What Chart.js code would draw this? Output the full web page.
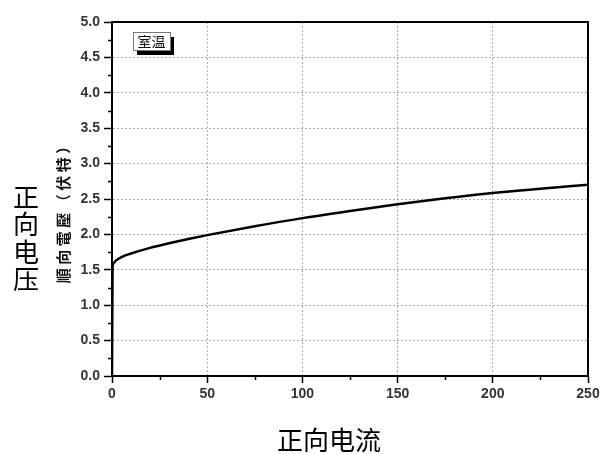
<!DOCTYPE html>
<html>
<head>
<meta charset="utf-8">
<script src="https://cdn.jsdelivr.net/npm/chart.js@4/dist/chart.umd.min.js"></script>
<style>
  html, body { margin: 0; padding: 0; background: #fff; }
  #wrap { width: 610px; height: 454px; }
</style>
</head>
<body>
<div id="wrap"><canvas id="ivChart" width="610" height="454"></canvas></div>
<script>
// forward current (x) and forward voltage (y)
const currentValues = [0, 0.3, 1, 2, 5, 10, 20, 30, 40, 50, 75, 100, 125, 150, 175, 200, 225, 250];
const voltageValues = [0, 1.55, 1.6, 1.63, 1.68, 1.73, 1.81, 1.875, 1.935, 1.99, 2.115, 2.23, 2.33, 2.425, 2.51, 2.585, 2.645, 2.70];

const xTickValues = [0, 50, 100, 150, 200, 250];
const yTickValues = [0, 0.5, 1, 1.5, 2, 2.5, 3, 3.5, 4, 4.5, 5];
const xMinorTicks = [25, 75, 125, 175, 225];
const yMinorTicks = [0.25, 0.75, 1.25, 1.75, 2.25, 2.75, 3.25, 3.75, 4.25, 4.75];

const seriesName = '室温';
const innerYTitle = '順向電壓（伏特）';
const outerYTitle = '正向电压';
const outerXTitle = '正向电流';

const points = currentValues.map((c, i) => ({ x: c, y: voltageValues[i] }));

const cjkFont = '"Noto Sans CJK SC", "Noto Sans CJK JP", sans-serif';

// frame, minor ticks, legend box and the extra titles
const decorations = {
    id: 'decorations',
    afterDraw(chart) {
        const ctx = chart.ctx;
        const area = chart.chartArea;
        const xs = chart.scales.x;
        const ys = chart.scales.y;

        ctx.save();
        ctx.strokeStyle = '#000';
        ctx.lineWidth = 2;
        ctx.strokeRect(area.left, area.top, area.right - area.left, area.bottom - area.top);

        ctx.lineWidth = 1.5;
        ctx.beginPath();
        xMinorTicks.forEach(v => {
            const px = Math.round(xs.getPixelForValue(v)) + 0.5;
            ctx.moveTo(px, area.bottom);
            ctx.lineTo(px, area.bottom + 4);
        });
        yMinorTicks.forEach(v => {
            const py = Math.round(ys.getPixelForValue(v)) + 0.5;
            ctx.moveTo(area.left, py);
            ctx.lineTo(area.left - 4, py);
        });
        ctx.stroke();

        // legend box with shadow
        const bx = area.left + 21, by = area.top + 10, bw = 37, bh = 18;
        ctx.fillStyle = '#000';
        ctx.fillRect(bx + 4, by + 5, bw, bh);
        ctx.fillStyle = '#fff';
        ctx.fillRect(bx, by, bw, bh);
        ctx.strokeStyle = '#777';
        ctx.lineWidth = 1;
        ctx.strokeRect(bx + 0.5, by + 0.5, bw, bh);
        ctx.fillStyle = '#111';
        ctx.font = '14px ' + cjkFont;
        ctx.textAlign = 'center';
        ctx.textBaseline = 'middle';
        ctx.fillText(seriesName, bx + bw / 2, by + bh / 2 + 1);

        // rotated inner y title, one glyph at a time for the wide spacing
        ctx.save();
        ctx.translate(63, 211);
        ctx.rotate(-Math.PI / 2);
        ctx.font = 'bold 15px ' + cjkFont;
        ctx.fillStyle = '#111';
        const innerChars = Array.from(innerYTitle);
        const step = 18.5;
        innerChars.forEach((ch, i) => {
            ctx.fillText(ch, (i - (innerChars.length - 1) / 2) * step, 0);
        });
        ctx.restore();

        // stacked outer y title
        ctx.font = '26px ' + cjkFont;
        ctx.fillStyle = '#000';
        ctx.textAlign = 'center';
        ctx.textBaseline = 'middle';
        Array.from(outerYTitle).forEach((ch, i) => {
            ctx.fillText(ch, 26, 197 + i * 27.5);
        });

        // outer x title
        ctx.fillText(outerXTitle, 329, 440);
        ctx.restore();
    }
};

const tickFont = { family: '"Liberation Sans", Arial, sans-serif', size: 14, weight: 'bold' };

const ivChart = new Chart(document.getElementById('ivChart').getContext('2d'), {
    type: 'line',
    data: {
        datasets: [{
            label: seriesName,
            data: points,
            borderColor: '#000',
            borderWidth: 2.5,
            pointRadius: 0,
            fill: false,
            cubicInterpolationMode: 'monotone'
        }]
    },
    options: {
        responsive: false,
        animation: false,
        layout: { padding: { top: 22, right: 22, bottom: 0, left: 0 } },
        plugins: {
            legend: { display: false },
            tooltip: { enabled: false }
        },
        scales: {
            x: {
                type: 'linear',
                min: 0,
                max: 250,
                afterBuildTicks: scale => { scale.ticks = xTickValues.map(v => ({ value: v })); },
                afterFit: scale => { scale.height = 78; },
                ticks: { color: '#333', font: tickFont, padding: 3, maxRotation: 0 },
                grid: { color: '#aaa', tickColor: '#000', tickLength: 7, tickWidth: 1.5 },
                border: { display: true, color: '#000', width: 2, dash: [2, 2] }
            },
            y: {
                min: 0,
                max: 5,
                afterBuildTicks: scale => { scale.ticks = yTickValues.map(v => ({ value: v })); },
                afterFit: scale => { scale.width = 112; },
                ticks: { color: '#333', font: tickFont, padding: 4, callback: v => Number(v).toFixed(1) },
                grid: { color: '#aaa', tickColor: '#000', tickLength: 8, tickWidth: 1.5 },
                border: { display: true, color: '#000', width: 2, dash: [2, 2] }
            }
        }
    },
    plugins: [decorations]
});
</script>
</body>
</html>
